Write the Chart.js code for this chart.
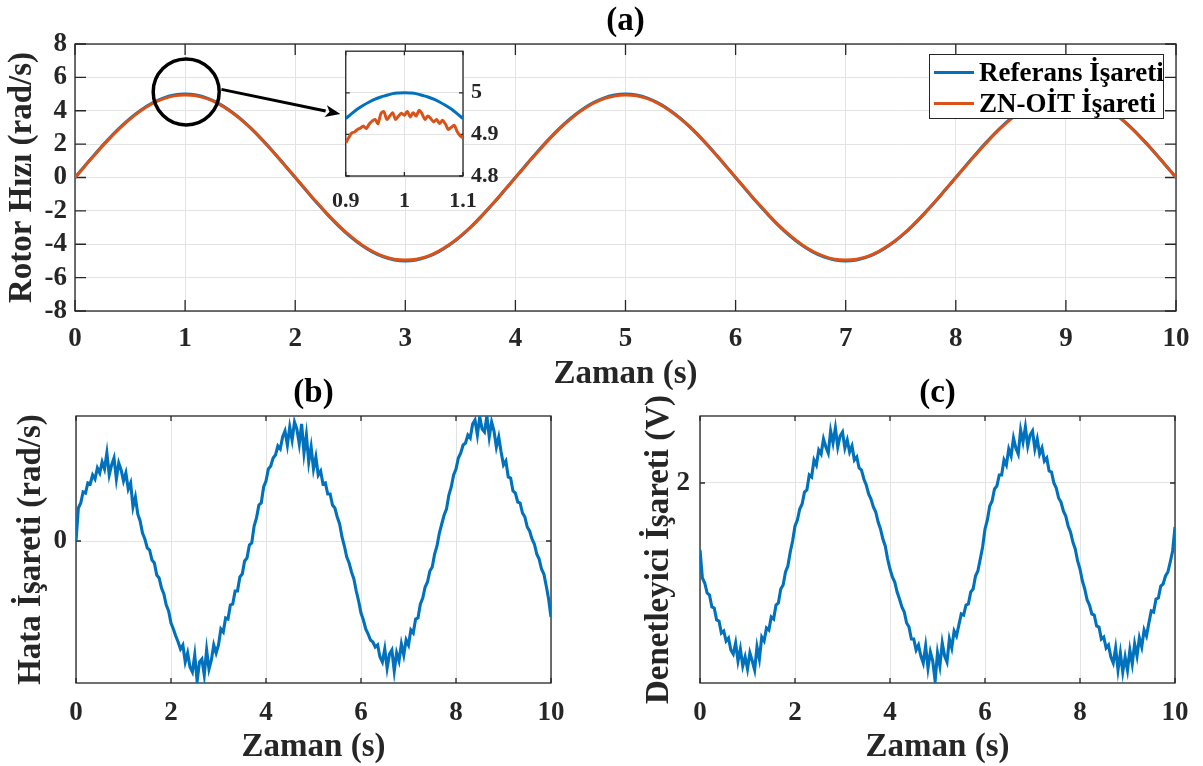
<!DOCTYPE html>
<html>
<head>
<meta charset="utf-8">
<script src="https://cdn.jsdelivr.net/npm/chart.js@4.4.1/dist/chart.umd.min.js"></script>
<style>
  html, body { margin: 0; padding: 0; background: #fff; }
  #page { position: relative; width: 1203px; height: 766px; overflow: hidden; }
  .box { position: absolute; }
  #legend { position: absolute; left: 929px; top: 54px; width: 235px; height: 65px; box-sizing: border-box;
            border: 1px solid #262626; background: #fff; font: bold 27px 'Liberation Serif', serif; color: #000; }
  .row { position: absolute; left: 0; height: 31px; display: flex; align-items: center; white-space: nowrap; }
  .swatch { width: 40px; height: 3px; margin-left: 4px; margin-right: 5px; }
</style>
</head>
<body>
<div id="page">
  <div class="box" style="left:0;top:0;width:1203px;height:400px"><canvas id="chartA"></canvas></div>
  <div class="box" style="left:320px;top:30px;width:190px;height:185px"><canvas id="chartInset"></canvas></div>
  <div id="legend"></div>
  <div class="box" style="left:0;top:370px;width:580px;height:396px"><canvas id="chartB"></canvas></div>
  <div class="box" style="left:620px;top:370px;width:583px;height:396px"><canvas id="chartC"></canvas></div>
</div>
<script>
// ---- data ----
const seriesNames = ['Referans İşareti', 'ZN-OİT İşareti']
const seriesColors = ['#0072BD', '#D95319']

// (a) rotor speed, sampled every 0.1 s
const speedStep = 0.1
const refSpeed = [
  0, 0.78, 1.55, 2.27, 2.94, 3.54, 4.05, 4.46, 4.76, 4.94,
  5.00, 4.94, 4.76, 4.46, 4.05, 3.54, 2.94, 2.27, 1.55, 0.78,
  0, -0.78, -1.55, -2.27, -2.94, -3.54, -4.05, -4.46, -4.76, -4.94,
  -5.00, -4.94, -4.76, -4.46, -4.05, -3.54, -2.94, -2.27, -1.55, -0.78,
  0, 0.78, 1.55, 2.27, 2.94, 3.54, 4.05, 4.46, 4.76, 4.94,
  5.00, 4.94, 4.76, 4.46, 4.05, 3.54, 2.94, 2.27, 1.55, 0.78,
  0, -0.78, -1.55, -2.27, -2.94, -3.54, -4.05, -4.46, -4.76, -4.94,
  -5.00, -4.94, -4.76, -4.46, -4.05, -3.54, -2.94, -2.27, -1.55, -0.78,
  0, 0.78, 1.55, 2.27, 2.94, 3.54, 4.05, 4.46, 4.76, 4.94,
  5.00, 4.94, 4.76, 4.46, 4.05, 3.54, 2.94, 2.27, 1.55, 0.78, 0
]
const actSpeed = [
  0, 0.76, 1.52, 2.24, 2.91, 3.50, 4.01, 4.42, 4.71, 4.89,
  4.95, 4.90, 4.73, 4.43, 4.02, 3.51, 2.92, 2.25, 1.53, 0.77,
  0.01, -0.76, -1.52, -2.24, -2.91, -3.50, -4.01, -4.42, -4.72, -4.90,
  -4.95, -4.90, -4.73, -4.43, -4.02, -3.51, -2.92, -2.25, -1.53, -0.77,
  0.00, 0.76, 1.52, 2.24, 2.91, 3.50, 4.01, 4.42, 4.72, 4.89,
  4.95, 4.90, 4.73, 4.43, 4.02, 3.51, 2.92, 2.25, 1.53, 0.77,
  0.00, -0.76, -1.52, -2.24, -2.91, -3.50, -4.01, -4.42, -4.71, -4.90,
  -4.95, -4.90, -4.73, -4.43, -4.02, -3.51, -2.92, -2.25, -1.53, -0.77,
  0.00, 0.76, 1.52, 2.24, 2.91, 3.50, 4.01, 4.42, 4.72, 4.89,
  4.95, 4.90, 4.73, 4.43, 4.02, 3.51, 2.92, 2.25, 1.53, 0.77, 0.01
]

// inset, 0.9 .. 1.1 s
const insetRefT = [0.90, 0.91, 0.92, 0.93, 0.94, 0.95, 0.96, 0.97, 0.98, 0.99, 1.00,
                   1.01, 1.02, 1.03, 1.04, 1.05, 1.06, 1.07, 1.08, 1.09, 1.10]
const insetRef = [4.938, 4.950, 4.961, 4.970, 4.978, 4.985, 4.990, 4.994, 4.998, 4.9995, 5.000,
                  4.9995, 4.998, 4.994, 4.990, 4.985, 4.978, 4.970, 4.961, 4.950, 4.938]
const insetActStep = 0.005
const insetAct = [
  4.880, 4.892, 4.903, 4.906, 4.912, 4.915, 4.920, 4.914, 4.925, 4.932,
  4.936, 4.926, 4.950, 4.955, 4.936, 4.944, 4.952, 4.936, 4.944, 4.951,
  4.946, 4.955, 4.942, 4.952, 4.944, 4.958, 4.950, 4.936, 4.944, 4.938,
  4.930, 4.936, 4.926, 4.934, 4.925, 4.912, 4.917, 4.922, 4.907, 4.897, 4.892
]
const insetXTicks = [0.9, 1, 1.1]
const insetYTicks = [4.8, 4.9, 5]

// (b) error and (c) controller signal, sampled every 0.05 s
const sigStep = 0.05
const errVals = [
  0.000, 0.033, 0.038, 0.049, 0.048, 0.058, 0.057, 0.066, 0.062, 0.073,
  0.068, 0.079, 0.072, 0.088, 0.066, 0.076, 0.083, 0.062, 0.078, 0.071,
  0.060, 0.068, 0.052, 0.058, 0.034, 0.044, 0.027, 0.020, 0.008, 0.002,
  -0.007, -0.009, -0.019, -0.022, -0.034, -0.037, -0.047, -0.053, -0.064, -0.070,
  -0.082, -0.088, -0.095, -0.101, -0.108, -0.104, -0.121, -0.112, -0.126, -0.131,
  -0.114, -0.140, -0.121, -0.118, -0.134, -0.109, -0.128, -0.119, -0.104, -0.112,
  -0.104, -0.088, -0.091, -0.077, -0.078, -0.064, -0.063, -0.050, -0.050, -0.036,
  -0.033, -0.020, -0.017, -0.004, -0.002, 0.015, 0.023, 0.036, 0.038, 0.054,
  0.060, 0.072, 0.075, 0.083, 0.086, 0.095, 0.092, 0.104, 0.110, 0.096,
  0.114, 0.101, 0.119, 0.112, 0.097, 0.117, 0.088, 0.106, 0.079, 0.094,
  0.072, 0.084, 0.066, 0.070, 0.057, 0.058, 0.047, 0.047, 0.036, 0.033,
  0.024, 0.017, 0.004, -0.005, -0.016, -0.022, -0.031, -0.038, -0.050, -0.060,
  -0.072, -0.079, -0.088, -0.093, -0.099, -0.101, -0.106, -0.104, -0.116, -0.121,
  -0.108, -0.127, -0.113, -0.109, -0.130, -0.112, -0.120, -0.103, -0.114, -0.099,
  -0.104, -0.089, -0.092, -0.078, -0.077, -0.063, -0.057, -0.046, -0.041, -0.030,
  -0.026, -0.013, -0.005, 0.008, 0.017, 0.026, 0.032, 0.046, 0.054, 0.066,
  0.072, 0.083, 0.088, 0.096, 0.098, 0.106, 0.103, 0.117, 0.121, 0.106,
  0.124, 0.112, 0.109, 0.125, 0.104, 0.119, 0.110, 0.094, 0.104, 0.089,
  0.076, 0.080, 0.064, 0.063, 0.050, 0.048, 0.039, 0.038, 0.028, 0.024,
  0.014, 0.010, 0.002, -0.003, -0.013, -0.018, -0.028, -0.033, -0.045, -0.058,
  -0.076
]
const ctrlVals = [
  1.33, 1.05, 1.00, 0.90, 0.88, 0.76, 0.75, 0.63, 0.62, 0.50,
  0.52, 0.42, 0.45, 0.33, 0.29, 0.40, 0.22, 0.34, 0.17, 0.26,
  0.14, 0.30, 0.22, 0.13, 0.36, 0.24, 0.46, 0.42, 0.55, 0.53,
  0.66, 0.64, 0.78, 0.80, 0.94, 0.98, 1.11, 1.17, 1.31, 1.42,
  1.57, 1.63, 1.74, 1.79, 1.91, 1.93, 2.08, 2.06, 2.23, 2.18,
  2.33, 2.29, 2.44, 2.36, 2.30, 2.52, 2.40, 2.55, 2.36, 2.47,
  2.51, 2.35, 2.43, 2.31, 2.37, 2.23, 2.26, 2.15, 2.13, 2.04,
  1.98, 1.89, 1.84, 1.76, 1.71, 1.61, 1.54, 1.44, 1.37, 1.24,
  1.14, 1.06, 1.01, 0.91, 0.84, 0.76, 0.71, 0.60, 0.56, 0.44,
  0.44, 0.33, 0.38, 0.27, 0.20, 0.37, 0.15, 0.31, 0.22, 0.02,
  0.30, 0.17, 0.40, 0.27, 0.21, 0.44, 0.35, 0.52, 0.47, 0.58,
  0.69, 0.68, 0.78, 0.79, 0.91, 0.94, 1.07, 1.12, 1.24, 1.36,
  1.54, 1.63, 1.77, 1.82, 1.94, 1.97, 2.08, 2.08, 2.23, 2.18,
  2.34, 2.27, 2.45, 2.35, 2.29, 2.53, 2.41, 2.56, 2.37, 2.48,
  2.52, 2.34, 2.44, 2.29, 2.35, 2.22, 2.25, 2.12, 2.11, 2.00,
  1.95, 1.85, 1.81, 1.72, 1.67, 1.57, 1.51, 1.41, 1.34, 1.22,
  1.14, 1.02, 0.94, 0.83, 0.78, 0.69, 0.68, 0.57, 0.56, 0.44,
  0.46, 0.35, 0.38, 0.26, 0.20, 0.35, 0.13, 0.30, 0.11, 0.26,
  0.13, 0.33, 0.19, 0.39, 0.27, 0.45, 0.36, 0.53, 0.47, 0.60,
  0.72, 0.71, 0.84, 0.85, 0.97, 0.99, 1.07, 1.11, 1.21, 1.32,
  1.56
]

// ---- helpers ----
const SERIF = "'Liberation Serif', 'Times New Roman', serif"
const GRID = '#e3e3e3'
const INK = '#262626'
Chart.defaults.font.family = SERIF
Chart.defaults.font.weight = 'bold'
Chart.defaults.color = INK
Chart.defaults.animation = false
Chart.defaults.events = []
Chart.defaults.elements.point.radius = 0
Chart.defaults.plugins.legend.display = false
Chart.defaults.plugins.tooltip.enabled = false

const bold = (size, lh) => ({ family: SERIF, size: size, weight: 'bold', lineHeight: lh || 1.2 })
const pairs = (step, vals, start = 0) => vals.map((v, i) => ({ x: +(start + i * step).toFixed(4), y: v }))
const fixedTicks = list => s => { s.ticks = list.map(v => ({ value: v })) }
const plainNum = v => String(Math.round(v * 100) / 100)

// box around the plot area with MATLAB-style inner ticks
const framePlugin = {
  id: 'frame',
  beforeDatasetsDraw(chart, args, o) {
    const { ctx, chartArea: a, scales: { x, y } } = chart
    const len = o.tick || 5
    ctx.save()
    ctx.strokeStyle = INK
    ctx.lineWidth = 1.3
    ctx.beginPath()
    x.ticks.forEach(t => {
      const px = x.getPixelForValue(t.value)
      ctx.moveTo(px, a.bottom); ctx.lineTo(px, a.bottom - len)
      ctx.moveTo(px, a.top); ctx.lineTo(px, a.top + len)
    })
    y.ticks.forEach(t => {
      const py = y.getPixelForValue(t.value)
      ctx.moveTo(a.left, py); ctx.lineTo(a.left + len, py)
      ctx.moveTo(a.right, py); ctx.lineTo(a.right - len, py)
    })
    ctx.stroke()
    ctx.strokeRect(a.left, a.top, a.right - a.left, a.bottom - a.top)
    ctx.restore()
  }
}

const whiteArea = {
  id: 'whiteArea',
  beforeDraw(chart) {
    const { ctx, chartArea: a } = chart
    ctx.save()
    ctx.fillStyle = '#fff'
    ctx.fillRect(a.left, a.top, a.right - a.left, a.bottom - a.top)
    ctx.restore()
  }
}

// circle round the peak and arrow to the inset
const zoomMark = {
  id: 'zoomMark',
  afterDatasetsDraw(chart, args, o) {
    const { ctx, scales: { x, y } } = chart
    const cx = x.getPixelForValue(o.at[0]), cy = y.getPixelForValue(o.at[1])
    const sx = x.getPixelForValue(o.from[0]), sy = y.getPixelForValue(o.from[1])
    const ex = x.getPixelForValue(o.to[0]), ey = y.getPixelForValue(o.to[1])
    ctx.save()
    ctx.strokeStyle = '#000'
    ctx.fillStyle = '#000'
    ctx.lineWidth = 3.5
    ctx.beginPath(); ctx.arc(cx, cy, o.r, 0, Math.PI * 2); ctx.stroke()
    const ang = Math.atan2(ey - sy, ex - sx), head = 15, half = 6
    const bx = ex - head * Math.cos(ang), by = ey - head * Math.sin(ang)
    ctx.lineWidth = 3
    ctx.beginPath(); ctx.moveTo(sx, sy); ctx.lineTo(bx, by); ctx.stroke()
    ctx.beginPath()
    ctx.moveTo(ex, ey)
    ctx.lineTo(bx + half * Math.sin(ang), by - half * Math.cos(ang))
    ctx.lineTo(bx + 4 * Math.cos(ang), by + 4 * Math.sin(ang))
    ctx.lineTo(bx - half * Math.sin(ang), by + half * Math.cos(ang))
    ctx.closePath(); ctx.fill()
    ctx.restore()
  }
}

const gridOpts = { color: GRID, lineWidth: 1, drawTicks: false }

// ---- (a) ----
new Chart('chartA', {
  type: 'line',
  data: {
    datasets: [
      { label: seriesNames[0], data: pairs(speedStep, refSpeed), borderColor: seriesColors[0], borderWidth: 3, tension: 0.4, order: 1 },
      { label: seriesNames[1], data: pairs(speedStep, actSpeed), borderColor: seriesColors[1], borderWidth: 3, tension: 0.4, order: 0 }
    ]
  },
  options: {
    responsive: true, maintainAspectRatio: false,
    layout: { padding: { left: 0, right: 27, top: 0, bottom: 0 } },
    plugins: {
      title: { display: true, text: '(a)', fullSize: false, color: '#000', font: bold(33), padding: { top: 1.9, bottom: 2.5 } },
      frame: { tick: 11 },
      zoomMark: { at: [1.01, 5.13], r: 33, from: [1.33, 5.28], to: [2.41, 3.80] }
    },
    scales: {
      x: {
        type: 'linear', min: 0, max: 10,
        afterFit: s => { s.height = 89 },
        grid: gridOpts, border: { display: false },
        ticks: { stepSize: 1, padding: 11.5, font: bold(27), autoSkip: false, maxRotation: 0 },
        title: { display: true, text: 'Zaman (s)', font: bold(33, 1.15), padding: { top: 0, bottom: 7 } }
      },
      y: {
        min: -8, max: 8,
        afterFit: s => { s.width = 75 },
        grid: gridOpts, border: { display: false },
        ticks: { stepSize: 2, padding: 8, font: bold(27), autoSkip: false },
        title: { display: true, text: 'Rotor Hızı (rad/s)', font: bold(33, 1.15), padding: { top: 3, bottom: 0 } }
      }
    }
  },
  plugins: [framePlugin, zoomMark]
})

// ---- inset ----
new Chart('chartInset', {
  type: 'line',
  data: {
    datasets: [
      { label: seriesNames[0], data: insetRefT.map((t, i) => ({ x: t, y: insetRef[i] })), borderColor: seriesColors[0], borderWidth: 3, tension: 0.4, order: 1 },
      { label: seriesNames[1], data: pairs(insetActStep, insetAct, 0.9), borderColor: seriesColors[1], borderWidth: 3, tension: 0.3, order: 0 }
    ]
  },
  options: {
    responsive: true, maintainAspectRatio: false,
    layout: { padding: { left: 20, right: 0, top: 17, bottom: 0 } },
    plugins: { frame: { tick: 4 } },
    scales: {
      x: {
        type: 'linear', min: 0.9, max: 1.1,
        afterBuildTicks: fixedTicks(insetXTicks),
        afterFit: s => { s.height = 39 },
        grid: gridOpts, border: { display: false },
        ticks: { padding: 12, font: bold(22), autoSkip: false, maxRotation: 0, callback: plainNum }
      },
      y: {
        position: 'right', min: 4.8, max: 5.1,
        afterBuildTicks: fixedTicks(insetYTicks),
        afterFit: s => { s.width = 47 },
        grid: gridOpts, border: { display: false },
        ticks: { padding: 8, font: bold(22), autoSkip: false, callback: plainNum }
      }
    }
  },
  plugins: [whiteArea, framePlugin]
})

// ---- legend of (a) ----
const legend = document.getElementById('legend')
seriesNames.forEach((name, i) => {
  const row = document.createElement('div')
  row.className = 'row'
  row.style.top = (2 + 31 * i) + 'px'
  row.innerHTML = '<span class="swatch" style="background:' + seriesColors[i] + '"></span><span>' + name + '</span>'
  legend.appendChild(row)
})

// ---- (b) and (c) ----
const smallPanel = (id, title, vals, yMin, yMax, yTick, yTitle, axisW, tickPad, padRight, yTitlePad) => new Chart(id, {
  type: 'line',
  data: { datasets: [{ data: pairs(sigStep, vals), borderColor: seriesColors[0], borderWidth: 3.1, tension: 0 }] },
  options: {
    responsive: true, maintainAspectRatio: false,
    layout: { padding: { left: 0, right: padRight, top: 0, bottom: 0 } },
    plugins: {
      title: { display: true, text: title, fullSize: false, color: '#000', font: bold(33), padding: { top: 3.2, bottom: 3.2 } },
      frame: { tick: 5 }
    },
    scales: {
      x: {
        type: 'linear', min: 0, max: 10,
        afterFit: s => { s.height = 83 },
        grid: gridOpts, border: { display: false },
        ticks: { stepSize: 2, padding: 13.5, font: bold(27), autoSkip: false, maxRotation: 0 },
        title: { display: true, text: 'Zaman (s)', font: bold(33, 1.15), padding: { top: 0, bottom: 0 } }
      },
      y: {
        min: yMin, max: yMax,
        afterBuildTicks: fixedTicks([yTick]),
        afterFit: s => { s.width = axisW },
        grid: gridOpts, border: { display: false },
        ticks: { padding: tickPad, font: bold(27) },
        title: { display: true, text: yTitle, font: bold(33, 1.15), padding: { top: yTitlePad, bottom: 0 } }
      }
    }
  },
  plugins: [framePlugin]
})

smallPanel('chartB', '(b)', errVals, -0.142, 0.125, 0, 'Hata İşareti (rad/s)', 76, 9, 29, 12)
smallPanel('chartC', '(c)', ctrlVals, 0, 2.67, 2, 'Denetleyici İşareti (V)', 80, 10, 28, 20)
</script>
</body>
</html>
